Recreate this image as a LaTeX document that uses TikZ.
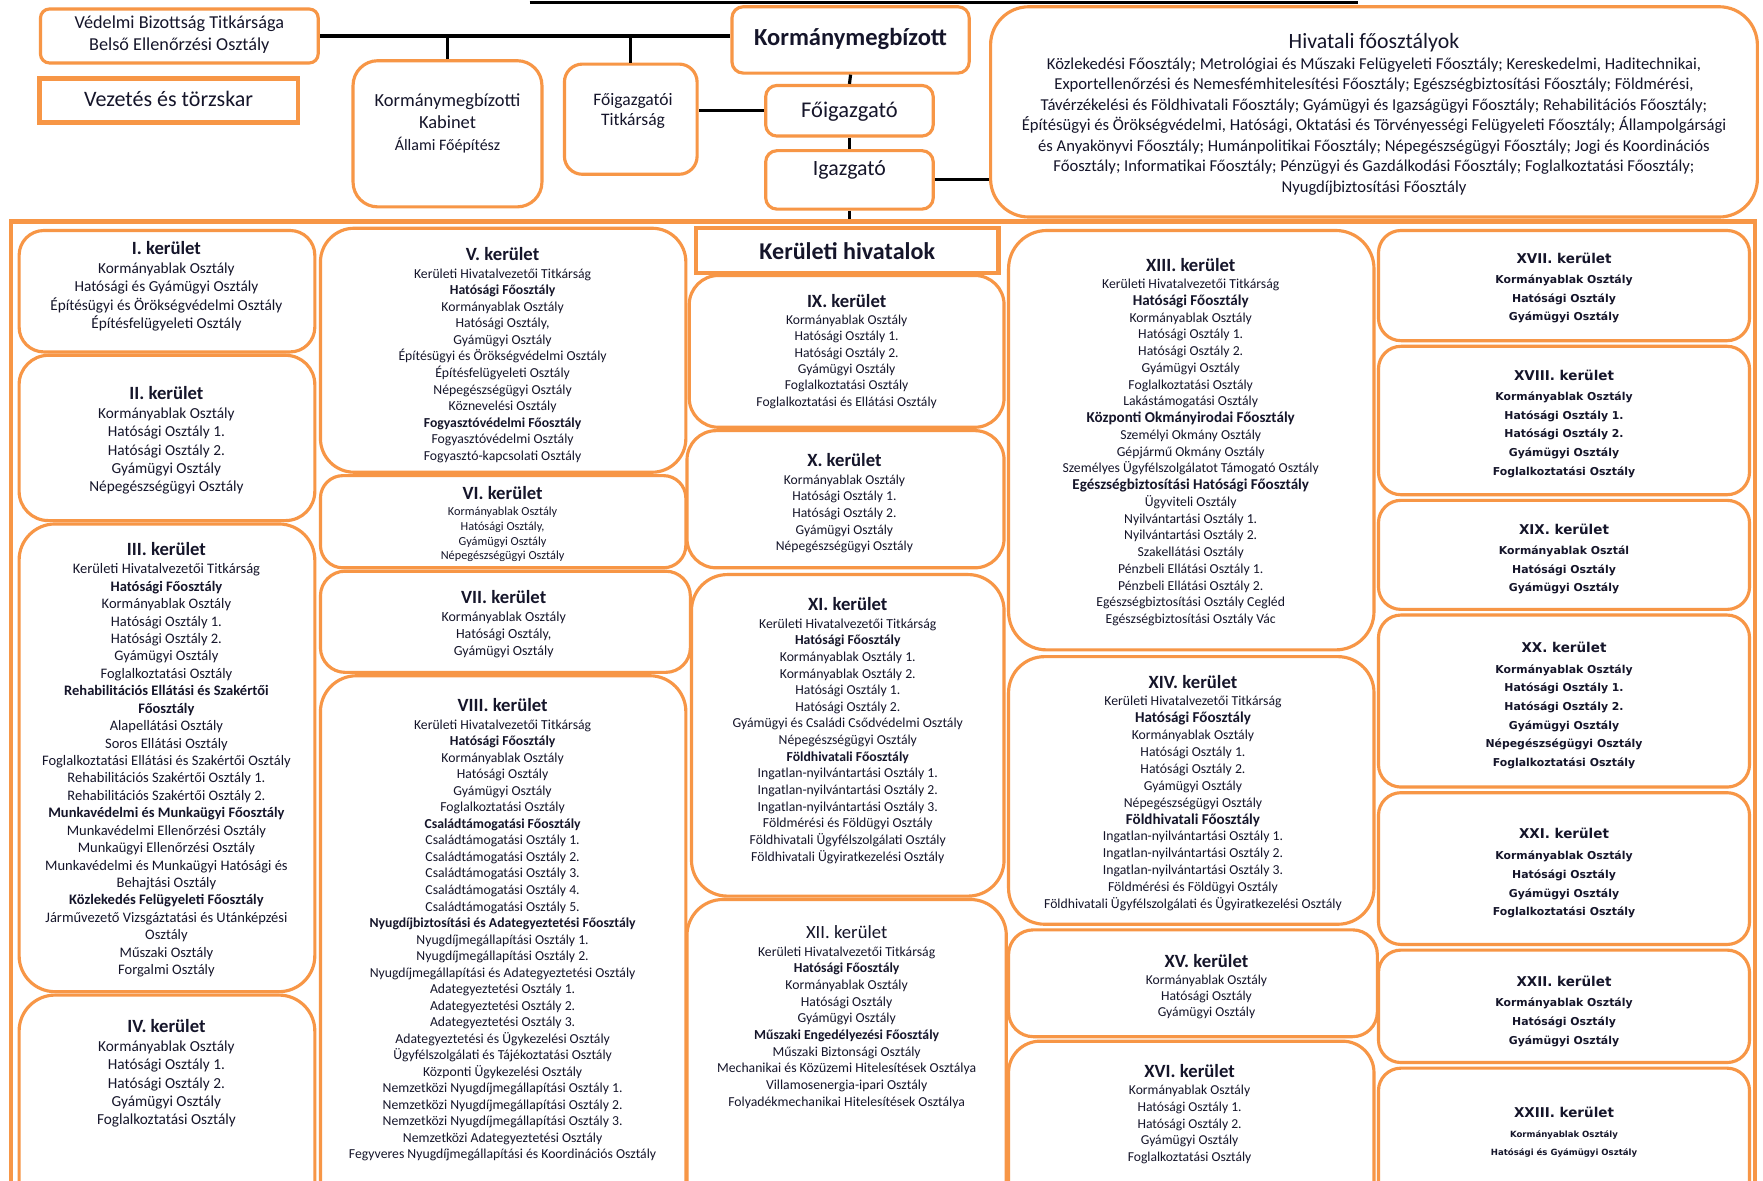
\documentclass[tikz,border=0pt]{standalone}
\usepackage{fontspec}
\setmainfont{Carlito}
\newfontfamily\vfont{DejaVu Sans}
\definecolor{org}{HTML}{F79646}
\definecolor{txt}{HTML}{15152A}
\newcommand\fs[2]{\fontsize{#1}{#2}\selectfont}
\newcommand\ttl[1]{{\fs{8.3}{9}\bfseries #1}\\[0.4pt]}
\newcommand\ttr[1]{{\fs{8.3}{9}#1}\\[0.4pt]}
\newcommand\ttv[1]{{\fs{6}{7}\bfseries #1}\\[0.9pt]}
\newcommand\fb[1]{{\fs{6.7}{7.45}\bfseries #1}}
\tikzset{
  kbox/.style={draw=org, line width=1.4pt, fill=white, inner sep=0pt},
  sqbox/.style={draw=org, line width=2pt, fill=white, inner sep=0pt},
  ktext/.style={anchor=north, align=center, inner sep=0pt, text=txt},
  ctext/.style={anchor=center, align=center, inner sep=0pt, text=txt},
  conn/.style={draw=black, line width=1.4pt},
}
\newcommand\kbox[6]{\node[kbox, rounded corners=#6, minimum width={(#4-#2)*0.5pt}, minimum height={(#5-#3)*0.5pt}] (#1) at ({(#2+#4)/2},{(#3+#5)/2}) {};}
\newcommand\sqbx[5]{\node[sqbox, minimum width={(#4-#2)*0.5pt}, minimum height={(#5-#3)*0.5pt}] (#1) at ({(#2+#4)/2},{(#3+#5)/2}) {};}
\begin{document}
\begin{tikzpicture}[x=0.5pt,y=-0.5pt]
\clip (0,0) rectangle (1568,1050);
\fill[white] (0,0) rectangle (1568,1050);
% ---------- top part ----------
\kbox{vbt}{36}{8}{283}{56}{4pt}
\node[ctext, font={\fs{8.1}{10}}] (vbtT) at (159.5,31) {Védelmi Bizottság Titkársága\\Belső Ellenőrzési Osztály};
\sqbx{vez}{35}{70}{265}{109}
\node[ctext, font={\fs{9.8}{11}}] (vezT) at (150,88) {Vezetés és törzskar};
\kbox{kab}{314}{54}{482}{184}{11pt}
\node[ctext, font={\fs{8.2}{9.75}}] (kabT) at (398,110) {Kormánymegbízotti\\Kabinet\\{\fs{7.1}{9.75}Állami Főépítész}};
\kbox{ftk}{502}{57}{620}{155}{8pt}
\node[ctext, font={\fs{7.8}{9}}] (ftkT) at (563,99) {Főigazgatói\\Titkárság};
\kbox{kmb}{651}{6}{862}{65}{5pt}
\node[ctext, font={\fs{10.9}{12}\bfseries}] (kmbT) at (756.5,35) {Kormánymegbízott};
\kbox{fig}{681}{76}{830}{121}{5pt}
\node[ctext, font={\fs{10}{11}}] (figT) at (755.5,99) {Főigazgató};
\kbox{igz}{681}{134}{830}{186}{5pt}
\node[ctext, font={\fs{9.7}{11}}] (igzT) at (755.5,151) {Igazgató};
\kbox{hiv}{881}{6}{1563}{193}{17pt}
\node[ktext, font={\fs{7.4}{9.1}}] (hivT) at (1222,29.5) {{\fs{9.7}{9.1}Hivatali főosztályok}\\
Közlekedési Főosztály; Metrológiai és Műszaki Felügyeleti Főosztály; Kereskedelmi, Haditechnikai,\\
Exportellenőrzési és Nemesfémhitelesítési Főosztály; Egészségbiztosítási Főosztály; Földmérési,\\
Távérzékelési és Földhivatali Főosztály; Gyámügyi és Igazságügyi Főosztály; Rehabilitációs Főosztály;\\
Építésügyi és Örökségvédelmi, Hatósági, Oktatási és Törvényességi Felügyeleti Főosztály; Állampolgársági\\
és Anyakönyvi Főosztály; Humánpolitikai Főosztály; Népegészségügyi Főosztály; Jogi és Koordinációs\\
Főosztály; Informatikai Főosztály; Pénzügyi és Gazdálkodási Főosztály; Foglalkoztatási Főosztály;\\
Nyugdíjbiztosítási Főosztály};
% ---------- connectors ----------
\coordinate (tl) at (471,2);
\coordinate (tr) at (1208,2);
\draw[conn] (tl) -- (tr);
\draw[conn] (vbt.east) -- (vbt.east -| kmb.west);
\draw[conn] (kab.north) -- (kab.north |- vbt.east);
\draw[conn] (ftk.north) -- (ftk.north |- vbt.east);
\draw[conn] (kmb.south) -- (fig.north);
\draw[conn] (fig.west) -- (fig.west -| ftk.east);
\draw[conn] (fig.south) -- (igz.north);
\draw[conn] (igz.east) -- (igz.east -| hiv.west);
% ---------- district frame ----------
\node[draw=org, line width=2pt, inner sep=0pt, minimum width={(1561-10)*0.5pt}, minimum height={(1090-197)*0.5pt}] (frame) at (785.5,643.5) {};
\draw[conn] (igz.south) -- (igz.south |- frame.north);
\sqbx{kh}{619}{203}{888}{243}
\node[ctext, font={\fs{10.7}{12}\bfseries}] (khT) at (753.5,223) {Kerületi hivatalok};
% column 1
\kbox{k1}{17}{205}{280}{313}{11pt}
\kbox{k2}{17}{316}{280}{463}{13pt}
\kbox{k3}{17}{466}{280}{882}{16pt}
\kbox{k4}{17}{885}{280}{1085}{16pt}
% column 2
\kbox{k5}{285}{203}{610}{420}{15pt}
\kbox{k6}{285}{423}{610}{505}{10pt}
\kbox{k7}{285}{508}{614}{598}{11pt}
\kbox{k8}{285}{601}{610}{1085}{16pt}
% column 3
\kbox{k9}{613}{245}{893}{380}{13pt}
\kbox{k10}{611}{383}{893}{505}{13pt}
\kbox{k11}{615}{511}{893}{797}{16pt}
\kbox{k12}{611}{800}{895}{1085}{16pt}
% column 4
\kbox{k13}{897}{205}{1222}{578}{17pt}
\kbox{k14}{897}{584}{1222}{822}{16pt}
\kbox{k15}{897}{827}{1225}{922}{11pt}
\kbox{k16}{897}{926}{1222}{1085}{14pt}
% column 5
\kbox{k17}{1226}{205}{1556}{303}{10pt}
\kbox{k18}{1226}{308}{1556}{440}{10pt}
\kbox{k19}{1226}{445}{1556}{542}{10pt}
\kbox{k20}{1226}{547}{1556}{700}{10pt}
\kbox{k21}{1226}{705}{1556}{840}{10pt}
\kbox{k22}{1226}{845}{1556}{945}{10pt}
\kbox{k23}{1226}{950}{1556}{1085}{10pt}
% ---------- district texts ----------
\node[ktext, font={\fs{6.8}{8.15}}] (k1T) at (148,214) {\ttl{I. kerület}Kormányablak Osztály\\Hatósági és Gyámügyi Osztály\\Építésügyi és Örökségvédelmi Osztály\\Építésfelügyeleti Osztály};
\node[ktext, font={\fs{6.8}{8.15}}] (k2T) at (148,343) {\ttl{II. kerület}Kormányablak Osztály\\Hatósági Osztály 1.\\Hatósági Osztály 2.\\Gyámügyi Osztály\\Népegészségügyi Osztály};
\node[ktext, font={\fs{6.45}{7.75}}] (k3T) at (148,482) {\ttl{III. kerület}Kerületi Hivatalvezetői Titkárság\\\textbf{Hatósági Főosztály}\\Kormányablak Osztály\\Hatósági Osztály 1.\\Hatósági Osztály 2.\\Gyámügyi Osztály\\Foglalkoztatási Osztály\\\textbf{Rehabilitációs Ellátási és Szakértői}\\\textbf{Főosztály}\\Alapellátási Osztály\\Soros Ellátási Osztály\\Foglalkoztatási Ellátási és Szakértői Osztály\\Rehabilitációs Szakértői Osztály 1.\\Rehabilitációs Szakértői Osztály 2.\\\textbf{Munkavédelmi és Munkaügyi Főosztály}\\Munkavédelmi Ellenőrzési Osztály\\Munkaügyi Ellenőrzési Osztály\\Munkavédelmi és Munkaügyi Hatósági és\\Behajtási Osztály\\\textbf{Közlekedés Felügyeleti Főosztály}\\Járművezető Vizsgáztatási és Utánképzési\\Osztály\\Műszaki Osztály\\Forgalmi Osztály};
\node[ktext, font={\fs{6.8}{8.15}}] (k4T) at (148,906) {\ttl{IV. kerület}Kormányablak Osztály\\Hatósági Osztály 1.\\Hatósági Osztály 2.\\Gyámügyi Osztály\\Foglalkoztatási Osztály};
\node[ktext, font={\fs{6.1}{7.35}}] (k5T) at (447,220) {\ttl{V. kerület}Kerületi Hivatalvezetői Titkárság\\\textbf{Hatósági Főosztály}\\Kormányablak Osztály\\Hatósági Osztály,\\Gyámügyi Osztály\\Építésügyi és Örökségvédelmi Osztály\\Építésfelügyeleti Osztály\\Népegészségügyi Osztály\\Köznevelési Osztály\\\textbf{Fogyasztóvédelmi Főosztály}\\Fogyasztóvédelmi Osztály\\Fogyasztó-kapcsolati Osztály};
\node[ktext, font={\fs{5.45}{6.65}}] (k6T) at (447,432) {\ttl{VI. kerület}Kormányablak Osztály\\Hatósági Osztály,\\Gyámügyi Osztály\\Népegészségügyi Osztály};
\node[ktext, font={\fs{6.2}{7.5}}] (k7T) at (448,525) {\ttl{VII. kerület}Kormányablak Osztály\\Hatósági Osztály,\\Gyámügyi Osztály};
\node[ktext, font={\fs{6.1}{7.35}}] (k8T) at (447,621) {\ttl{VIII. kerület}Kerületi Hivatalvezetői Titkárság\\\textbf{Hatósági Főosztály}\\Kormányablak Osztály\\Hatósági Osztály\\Gyámügyi Osztály\\Foglalkoztatási Osztály\\\textbf{Családtámogatási Főosztály}\\Családtámogatási Osztály 1.\\Családtámogatási Osztály 2.\\Családtámogatási Osztály 3.\\Családtámogatási Osztály 4.\\Családtámogatási Osztály 5.\\\textbf{Nyugdíjbiztosítási és Adategyeztetési Főosztály}\\Nyugdíjmegállapítási Osztály 1.\\Nyugdíjmegállapítási Osztály 2.\\Nyugdíjmegállapítási és Adategyeztetési Osztály\\Adategyeztetési Osztály 1.\\Adategyeztetési Osztály 2.\\Adategyeztetési Osztály 3.\\Adategyeztetési és Ügykezelési Osztály\\Ügyfélszolgálati és Tájékoztatási Osztály\\Központi Ügykezelési Osztály\\Nemzetközi Nyugdíjmegállapítási Osztály 1.\\Nemzetközi Nyugdíjmegállapítási Osztály 2.\\Nemzetközi Nyugdíjmegállapítási Osztály 3.\\Nemzetközi Adategyeztetési Osztály\\Fegyveres Nyugdíjmegállapítási és Koordinációs Osztály};
\node[ktext, font={\fs{6.05}{7.3}}] (k9T) at (753,261) {\ttl{IX. kerület}Kormányablak Osztály\\Hatósági Osztály 1.\\Hatósági Osztály 2.\\Gyámügyi Osztály\\Foglalkoztatási Osztály\\Foglalkoztatási és Ellátási Osztály};
\node[ktext, font={\fs{6.05}{7.4}}] (k10T) at (751,403) {\ttl{X. kerület}Kormányablak Osztály\\Hatósági Osztály 1.\\Hatósági Osztály 2.\\Gyámügyi Osztály\\Népegészségügyi Osztály};
\node[ktext, font={\fs{6.1}{7.4}}] (k11T) at (754,531) {\ttl{XI. kerület}Kerületi Hivatalvezetői Titkárság\\\textbf{Hatósági Főosztály}\\Kormányablak Osztály 1.\\Kormányablak Osztály 2.\\Hatósági Osztály 1.\\Hatósági Osztály 2.\\Gyámügyi és Családi Csődvédelmi Osztály\\Népegészségügyi Osztály\\\textbf{Földhivatali Főosztály}\\Ingatlan-nyilvántartási Osztály 1.\\Ingatlan-nyilvántartási Osztály 2.\\Ingatlan-nyilvántartási Osztály 3.\\Földmérési és Földügyi Osztály\\Földhivatali Ügyfélszolgálati Osztály\\Földhivatali Ügyiratkezelési Osztály};
\node[ktext, font={\fs{6.1}{7.4}}] (k12T) at (753,823) {\ttr{XII. kerület}Kerületi Hivatalvezetői Titkárság\\\textbf{Hatósági Főosztály}\\Kormányablak Osztály\\Hatósági Osztály\\Gyámügyi Osztály\\\textbf{Műszaki Engedélyezési Főosztály}\\Műszaki Biztonsági Osztály\\Mechanikai és Közüzemi Hitelesítések Osztálya\\Villamosenergia-ipari Osztály\\Folyadékmechanikai Hitelesítések Osztálya};
\node[ktext, font={\fs{6.1}{7.45}}] (k13T) at (1059,229) {\ttl{XIII. kerület}Kerületi Hivatalvezetői Titkárság\\\fb{Hatósági Főosztály}\\Kormányablak Osztály\\Hatósági Osztály 1.\\Hatósági Osztály 2.\\Gyámügyi Osztály\\Foglalkoztatási Osztály\\Lakástámogatási Osztály\\\fb{Központi Okmányirodai Főosztály}\\Személyi Okmány Osztály\\Gépjármű Okmány Osztály\\Személyes Ügyfélszolgálatot Támogató Osztály\\\fb{Egészségbiztosítási Hatósági Főosztály}\\Ügyviteli Osztály\\Nyilvántartási Osztály 1.\\Nyilvántartási Osztály 2.\\Szakellátási Osztály\\Pénzbeli Ellátási Osztály 1.\\Pénzbeli Ellátási Osztály 2.\\Egészségbiztosítási Osztály Cegléd\\Egészségbiztosítási Osztály Vác};
\node[ktext, font={\fs{6.1}{7.5}}] (k14T) at (1061,600) {\ttl{XIV. kerület}Kerületi Hivatalvezetői Titkárság\\\fb{Hatósági Főosztály}\\Kormányablak Osztály\\Hatósági Osztály 1.\\Hatósági Osztály 2.\\Gyámügyi Osztály\\Népegészségügyi Osztály\\\fb{Földhivatali Főosztály}\\Ingatlan-nyilvántartási Osztály 1.\\Ingatlan-nyilvántartási Osztály 2.\\Ingatlan-nyilvántartási Osztály 3.\\Földmérési és Földügyi Osztály\\Földhivatali Ügyfélszolgálati és Ügyiratkezelési Osztály};
\node[ktext, font={\fs{6.05}{7.25}}] (k15T) at (1073,848) {\ttl{XV. kerület}Kormányablak Osztály\\Hatósági Osztály\\Gyámügyi Osztály};
\node[ktext, font={\fs{6.05}{7.4}}] (k16T) at (1058,946) {\ttl{XVI. kerület}Kormányablak Osztály\\Hatósági Osztály 1.\\Hatósági Osztály 2.\\Gyámügyi Osztály\\Foglalkoztatási Osztály};
% column 5
\node[ktext, font={\vfont\bfseries\fs{4.84}{8.25}}] (k17T) at (1391,224.5) {\ttv{XVII. kerület}Kormányablak Osztály\\Hatósági Osztály\\Gyámügyi Osztály};
\node[ktext, font={\vfont\bfseries\fs{4.84}{8.25}}] (k18T) at (1391,328.5) {\ttv{XVIII. kerület}Kormányablak Osztály\\Hatósági Osztály 1.\\Hatósági Osztály 2.\\Gyámügyi Osztály\\Foglalkoztatási Osztály};
\node[ktext, font={\vfont\bfseries\fs{4.84}{8.25}}] (k19T) at (1391,465.5) {\ttv{XIX. kerület}Kormányablak Osztál\\Hatósági Osztály\\Gyámügyi Osztály};
\node[ktext, font={\vfont\bfseries\fs{4.84}{8.3}}] (k20T) at (1391,570.5) {\ttv{XX. kerület}Kormányablak Osztály\\Hatósági Osztály 1.\\Hatósági Osztály 2.\\Gyámügyi Osztály\\Népegészségügyi Osztály\\Foglalkoztatási Osztály};
\node[ktext, font={\vfont\bfseries\fs{4.84}{8.3}}] (k21T) at (1391,736.5) {\ttv{XXI. kerület}Kormányablak Osztály\\Hatósági Osztály\\Gyámügyi Osztály\\Foglalkoztatási Osztály};
\node[ktext, font={\vfont\bfseries\fs{4.84}{8.3}}] (k22T) at (1391,867.5) {\ttv{XXII. kerület}Kormányablak Osztály\\Hatósági Osztály\\Gyámügyi Osztály};
\node[ktext, font={\vfont\bfseries\fs{3.8}{8}}] (k23T) at (1391,984.5) {\ttv{XXIII. kerület}Kormányablak Osztály\\Hatósági és Gyámügyi Osztály};
\end{tikzpicture}
\end{document}
